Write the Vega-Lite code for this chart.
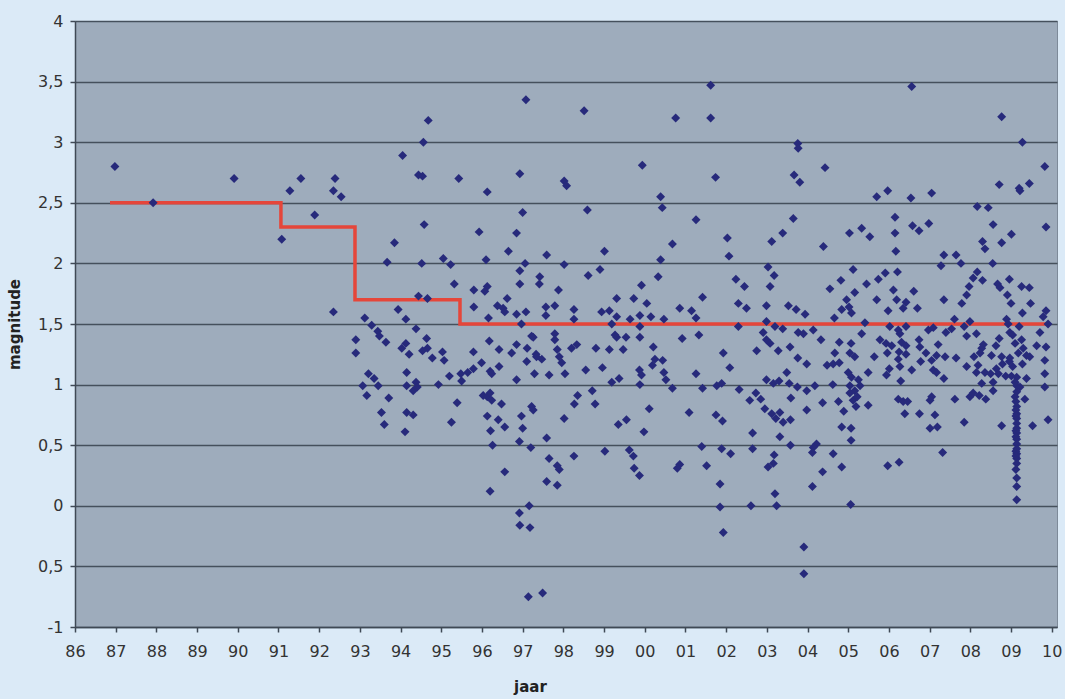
{
  "$schema": "https://vega.github.io/schema/vega-lite/v6.json",
  "width": 982,
  "height": 606,
  "autosize": {"type": "none"},
  "padding": {"left": 75, "top": 21, "right": 8, "bottom": 72},
  "background": "#dbeaf7",
  "config": {
    "view": {"fill": "#9eacbc", "stroke": "#7d8a99", "strokeWidth": 1},
    "axis": {"labelFont": "DejaVu Sans", "titleFont": "DejaVu Sans", "labelColor": "#333333", "titleColor": "#222222"}
  },
  "datasets": {
    "punten": [
      {"jaar":1986.98,"magnitude":2.80},{"jaar":1987.92,"magnitude":2.50},{"jaar":1989.91,"magnitude":2.70},{"jaar":1991.08,"magnitude":2.20},{"jaar":1991.28,"magnitude":2.60},{"jaar":1991.55,"magnitude":2.70},{"jaar":1991.89,"magnitude":2.40},{"jaar":1992.39,"magnitude":2.70},{"jaar":1992.35,"magnitude":2.60},{"jaar":1992.54,"magnitude":2.55},
      {"jaar":1994.68,"magnitude":3.18},{"jaar":1994.56,"magnitude":3.00},{"jaar":1994.05,"magnitude":2.89},{"jaar":1994.44,"magnitude":2.73},{"jaar":1994.54,"magnitude":2.72},{"jaar":1995.43,"magnitude":2.70},{"jaar":1994.58,"magnitude":2.32},{"jaar":1993.85,"magnitude":2.17},{"jaar":1993.67,"magnitude":2.01},{"jaar":1994.52,"magnitude":2.00},{"jaar":1995.05,"magnitude":2.04},{"jaar":1995.23,"magnitude":1.99},{"jaar":1995.32,"magnitude":1.83},{"jaar":1994.44,"magnitude":1.73},{"jaar":1994.66,"magnitude":1.71},{"jaar":1992.35,"magnitude":1.60},{"jaar":1993.94,"magnitude":1.62},{"jaar":1994.13,"magnitude":1.54},{"jaar":1993.12,"magnitude":1.55},{"jaar":1993.29,"magnitude":1.49},{"jaar":1993.44,"magnitude":1.44},{"jaar":1993.48,"magnitude":1.40},{"jaar":1993.64,"magnitude":1.35},{"jaar":1992.90,"magnitude":1.37},{"jaar":1992.90,"magnitude":1.26},{"jaar":1994.38,"magnitude":1.46},{"jaar":1994.03,"magnitude":1.30},{"jaar":1994.13,"magnitude":1.34},{"jaar":1994.21,"magnitude":1.25},{"jaar":1994.64,"magnitude":1.38},{"jaar":1994.54,"magnitude":1.28},{"jaar":1994.66,"magnitude":1.30},{"jaar":1994.78,"magnitude":1.22},{"jaar":1995.03,"magnitude":1.27},{"jaar":1995.07,"magnitude":1.20},{"jaar":1995.20,"magnitude":1.07},{"jaar":1995.48,"magnitude":1.09},{"jaar":1995.50,"magnitude":1.03},{"jaar":1995.65,"magnitude":1.10},{"jaar":1994.93,"magnitude":1.00},{"jaar":1994.15,"magnitude":1.10},{"jaar":1994.15,"magnitude":0.99},{"jaar":1994.38,"magnitude":1.02},{"jaar":1994.31,"magnitude":0.95},{"jaar":1994.41,"magnitude":0.98},{"jaar":1993.21,"magnitude":1.09},{"jaar":1993.35,"magnitude":1.05},{"jaar":1993.45,"magnitude":0.99},{"jaar":1993.07,"magnitude":0.99},{"jaar":1993.17,"magnitude":0.91},{"jaar":1993.71,"magnitude":0.89},{"jaar":1993.53,"magnitude":0.77},{"jaar":1993.60,"magnitude":0.67},{"jaar":1994.15,"magnitude":0.77},{"jaar":1994.31,"magnitude":0.75},{"jaar":1994.11,"magnitude":0.61},{"jaar":1995.39,"magnitude":0.85},{"jaar":1995.25,"magnitude":0.69},
      {"jaar":1997.08,"magnitude":3.35},{"jaar":1998.51,"magnitude":3.26},{"jaar":1999.94,"magnitude":2.81},{"jaar":1996.93,"magnitude":2.74},{"jaar":1998.02,"magnitude":2.68},{"jaar":1998.08,"magnitude":2.64},{"jaar":1996.13,"magnitude":2.59},{"jaar":1997.00,"magnitude":2.42},{"jaar":1998.59,"magnitude":2.44},{"jaar":1995.93,"magnitude":2.26},{"jaar":1996.85,"magnitude":2.25},{"jaar":1996.65,"magnitude":2.10},{"jaar":1997.59,"magnitude":2.07},{"jaar":1999.01,"magnitude":2.10},{"jaar":1996.10,"magnitude":2.03},{"jaar":1997.06,"magnitude":2.00},{"jaar":1998.02,"magnitude":1.99},{"jaar":1996.93,"magnitude":1.94},{"jaar":1998.90,"magnitude":1.95},{"jaar":1998.61,"magnitude":1.90},{"jaar":1997.42,"magnitude":1.89},{"jaar":1997.41,"magnitude":1.83},{"jaar":1996.93,"magnitude":1.83},{"jaar":1996.13,"magnitude":1.81},{"jaar":1995.80,"magnitude":1.78},{"jaar":1996.07,"magnitude":1.77},{"jaar":1997.88,"magnitude":1.78},{"jaar":1999.92,"magnitude":1.82},{"jaar":1996.62,"magnitude":1.71},{"jaar":1999.31,"magnitude":1.71},{"jaar":1999.73,"magnitude":1.71},{"jaar":2000.05,"magnitude":1.67},{"jaar":1995.80,"magnitude":1.64},{"jaar":1996.38,"magnitude":1.65},{"jaar":1996.52,"magnitude":1.63},{"jaar":1996.56,"magnitude":1.60},{"jaar":1997.57,"magnitude":1.64},{"jaar":1997.79,"magnitude":1.65},{"jaar":1998.26,"magnitude":1.62},{"jaar":1998.94,"magnitude":1.60},{"jaar":1999.13,"magnitude":1.61},{"jaar":1996.85,"magnitude":1.58},{"jaar":1997.08,"magnitude":1.60},{"jaar":1997.57,"magnitude":1.57},{"jaar":1998.26,"magnitude":1.54},{"jaar":1996.16,"magnitude":1.55},{"jaar":1999.31,"magnitude":1.56},{"jaar":1999.64,"magnitude":1.54},{"jaar":1999.88,"magnitude":1.57},{"jaar":1996.97,"magnitude":1.50},{"jaar":1999.19,"magnitude":1.50},{"jaar":1999.88,"magnitude":1.48},{"jaar":1996.18,"magnitude":1.36},{"jaar":1997.22,"magnitude":1.40},{"jaar":1997.26,"magnitude":1.39},{"jaar":1997.79,"magnitude":1.42},{"jaar":1997.79,"magnitude":1.37},{"jaar":1998.33,"magnitude":1.33},{"jaar":1998.20,"magnitude":1.30},{"jaar":1999.31,"magnitude":1.39},{"jaar":1999.27,"magnitude":1.41},{"jaar":1999.54,"magnitude":1.39},{"jaar":1999.88,"magnitude":1.39},{"jaar":1995.79,"magnitude":1.27},{"jaar":1996.42,"magnitude":1.29},{"jaar":1996.85,"magnitude":1.33},{"jaar":1996.73,"magnitude":1.26},{"jaar":1997.11,"magnitude":1.30},{"jaar":1997.33,"magnitude":1.25},{"jaar":1997.47,"magnitude":1.21},{"jaar":1997.34,"magnitude":1.23},{"jaar":1997.85,"magnitude":1.29},{"jaar":1997.90,"magnitude":1.23},{"jaar":1998.80,"magnitude":1.30},{"jaar":1999.13,"magnitude":1.29},{"jaar":1999.47,"magnitude":1.29},{"jaar":1997.96,"magnitude":1.18},{"jaar":1997.10,"magnitude":1.19},{"jaar":1995.99,"magnitude":1.18},{"jaar":1995.79,"magnitude":1.13},{"jaar":1996.20,"magnitude":1.11},{"jaar":1996.42,"magnitude":1.15},{"jaar":1996.24,"magnitude":1.09},{"jaar":1996.85,"magnitude":1.04},{"jaar":1997.29,"magnitude":1.09},{"jaar":1997.65,"magnitude":1.08},{"jaar":1998.04,"magnitude":1.09},{"jaar":1998.55,"magnitude":1.12},{"jaar":1998.96,"magnitude":1.14},{"jaar":1999.87,"magnitude":1.12},{"jaar":1999.92,"magnitude":1.08},{"jaar":1999.19,"magnitude":1.02},{"jaar":1999.37,"magnitude":1.05},{"jaar":1999.88,"magnitude":1.00},{"jaar":1996.03,"magnitude":0.91},{"jaar":1996.13,"magnitude":0.90},{"jaar":1996.24,"magnitude":0.87},{"jaar":1996.20,"magnitude":0.93},{"jaar":1996.48,"magnitude":0.84},{"jaar":1997.22,"magnitude":0.82},{"jaar":1997.26,"magnitude":0.79},{"jaar":1998.35,"magnitude":0.91},{"jaar":1998.27,"magnitude":0.84},{"jaar":1998.71,"magnitude":0.95},{"jaar":1998.78,"magnitude":0.84},{"jaar":2000.11,"magnitude":0.80},{"jaar":1996.13,"magnitude":0.74},{"jaar":1996.97,"magnitude":0.74},{"jaar":1996.40,"magnitude":0.71},{"jaar":1996.56,"magnitude":0.65},{"jaar":1996.21,"magnitude":0.62},{"jaar":1997.00,"magnitude":0.64},{"jaar":1998.02,"magnitude":0.72},{"jaar":1999.35,"magnitude":0.67},{"jaar":1999.55,"magnitude":0.71},{"jaar":1999.98,"magnitude":0.61},{"jaar":1996.92,"magnitude":0.53},{"jaar":1996.26,"magnitude":0.50},{"jaar":1997.20,"magnitude":0.48},{"jaar":1997.59,"magnitude":0.56},{"jaar":1997.65,"magnitude":0.39},{"jaar":1997.85,"magnitude":0.33},{"jaar":1997.90,"magnitude":0.30},{"jaar":1998.26,"magnitude":0.41},{"jaar":1999.02,"magnitude":0.45},{"jaar":1999.62,"magnitude":0.46},{"jaar":1999.72,"magnitude":0.41},{"jaar":1999.74,"magnitude":0.31},{"jaar":1999.87,"magnitude":0.25},{"jaar":1996.56,"magnitude":0.28},{"jaar":1997.59,"magnitude":0.20},{"jaar":1997.85,"magnitude":0.17},{"jaar":1996.20,"magnitude":0.12},{"jaar":1997.16,"magnitude":0.00},{"jaar":1996.92,"magnitude":-0.06},{"jaar":1996.93,"magnitude":-0.16},{"jaar":1997.18,"magnitude":-0.18},{"jaar":1997.14,"magnitude":-0.75},{"jaar":1997.49,"magnitude":-0.72},
      {"jaar":2001.62,"magnitude":3.47},{"jaar":2000.76,"magnitude":3.20},{"jaar":2001.62,"magnitude":3.20},{"jaar":2003.76,"magnitude":2.99},{"jaar":2003.77,"magnitude":2.95},{"jaar":2001.74,"magnitude":2.71},{"jaar":2003.67,"magnitude":2.73},{"jaar":2003.81,"magnitude":2.67},{"jaar":2000.39,"magnitude":2.55},{"jaar":2000.43,"magnitude":2.46},{"jaar":2001.26,"magnitude":2.36},{"jaar":2003.65,"magnitude":2.37},{"jaar":2002.03,"magnitude":2.21},{"jaar":2000.68,"magnitude":2.16},{"jaar":2003.39,"magnitude":2.25},{"jaar":2003.12,"magnitude":2.18},{"jaar":2002.07,"magnitude":2.06},{"jaar":2000.39,"magnitude":2.03},{"jaar":2000.33,"magnitude":1.89},{"jaar":2003.03,"magnitude":1.97},{"jaar":2003.18,"magnitude":1.90},{"jaar":2003.08,"magnitude":1.81},{"jaar":2002.24,"magnitude":1.87},{"jaar":2002.45,"magnitude":1.81},{"jaar":2001.42,"magnitude":1.72},{"jaar":2002.30,"magnitude":1.67},{"jaar":2002.50,"magnitude":1.63},{"jaar":2002.99,"magnitude":1.65},{"jaar":2003.53,"magnitude":1.65},{"jaar":2003.72,"magnitude":1.62},{"jaar":2003.94,"magnitude":1.58},{"jaar":2000.86,"magnitude":1.63},{"jaar":2001.15,"magnitude":1.61},{"jaar":2001.26,"magnitude":1.55},{"jaar":2000.15,"magnitude":1.56},{"jaar":2000.47,"magnitude":1.54},{"jaar":2002.30,"magnitude":1.48},{"jaar":2002.99,"magnitude":1.52},{"jaar":2003.20,"magnitude":1.48},{"jaar":2003.39,"magnitude":1.46},{"jaar":2003.77,"magnitude":1.43},{"jaar":2003.90,"magnitude":1.42},{"jaar":2000.92,"magnitude":1.38},{"jaar":2001.33,"magnitude":1.41},{"jaar":2002.91,"magnitude":1.43},{"jaar":2002.99,"magnitude":1.37},{"jaar":2003.08,"magnitude":1.34},{"jaar":2000.21,"magnitude":1.31},{"jaar":2001.93,"magnitude":1.26},{"jaar":2002.75,"magnitude":1.28},{"jaar":2003.28,"magnitude":1.28},{"jaar":2003.57,"magnitude":1.31},{"jaar":2003.76,"magnitude":1.22},{"jaar":2003.98,"magnitude":1.17},{"jaar":2000.25,"magnitude":1.21},{"jaar":2000.19,"magnitude":1.16},{"jaar":2000.44,"magnitude":1.20},{"jaar":2000.47,"magnitude":1.10},{"jaar":2002.09,"magnitude":1.14},{"jaar":2001.26,"magnitude":1.09},{"jaar":2000.52,"magnitude":1.04},{"jaar":2000.68,"magnitude":0.97},{"jaar":2001.42,"magnitude":0.97},{"jaar":2001.77,"magnitude":0.99},{"jaar":2001.89,"magnitude":1.01},{"jaar":2002.32,"magnitude":0.96},{"jaar":2002.99,"magnitude":1.04},{"jaar":2003.16,"magnitude":1.01},{"jaar":2003.30,"magnitude":1.03},{"jaar":2003.49,"magnitude":1.10},{"jaar":2003.55,"magnitude":1.01},{"jaar":2003.75,"magnitude":0.98},{"jaar":2003.98,"magnitude":0.95},{"jaar":2002.58,"magnitude":0.87},{"jaar":2002.73,"magnitude":0.93},{"jaar":2002.85,"magnitude":0.88},{"jaar":2002.95,"magnitude":0.80},{"jaar":2003.12,"magnitude":0.76},{"jaar":2003.22,"magnitude":0.72},{"jaar":2003.32,"magnitude":0.77},{"jaar":2003.40,"magnitude":0.69},{"jaar":2003.58,"magnitude":0.71},{"jaar":2003.59,"magnitude":0.89},{"jaar":2003.98,"magnitude":0.79},{"jaar":2001.09,"magnitude":0.77},{"jaar":2001.75,"magnitude":0.75},{"jaar":2001.91,"magnitude":0.70},{"jaar":2002.65,"magnitude":0.60},{"jaar":2002.65,"magnitude":0.47},{"jaar":2003.32,"magnitude":0.57},{"jaar":2003.58,"magnitude":0.50},{"jaar":2001.40,"magnitude":0.49},{"jaar":2001.89,"magnitude":0.47},{"jaar":2002.11,"magnitude":0.43},{"jaar":2003.18,"magnitude":0.42},{"jaar":2000.86,"magnitude":0.34},{"jaar":2000.80,"magnitude":0.31},{"jaar":2001.52,"magnitude":0.33},{"jaar":2003.03,"magnitude":0.32},{"jaar":2003.16,"magnitude":0.35},{"jaar":2001.85,"magnitude":0.18},{"jaar":2003.20,"magnitude":0.10},{"jaar":2003.24,"magnitude":0.00},{"jaar":2001.85,"magnitude":-0.01},{"jaar":2002.61,"magnitude":0.00},{"jaar":2001.93,"magnitude":-0.22},{"jaar":2003.91,"magnitude":-0.34},{"jaar":2003.91,"magnitude":-0.56},
      {"jaar":2006.56,"magnitude":3.46},{"jaar":2004.43,"magnitude":2.79},{"jaar":2005.70,"magnitude":2.55},{"jaar":2005.97,"magnitude":2.60},{"jaar":2006.54,"magnitude":2.54},{"jaar":2007.05,"magnitude":2.58},{"jaar":2006.15,"magnitude":2.38},{"jaar":2006.58,"magnitude":2.31},{"jaar":2006.74,"magnitude":2.27},{"jaar":2006.98,"magnitude":2.33},{"jaar":2005.03,"magnitude":2.25},{"jaar":2005.33,"magnitude":2.29},{"jaar":2005.53,"magnitude":2.22},{"jaar":2006.15,"magnitude":2.25},{"jaar":2006.17,"magnitude":2.10},{"jaar":2004.39,"magnitude":2.14},{"jaar":2007.35,"magnitude":2.07},{"jaar":2007.65,"magnitude":2.07},{"jaar":2007.28,"magnitude":1.98},{"jaar":2007.77,"magnitude":2.00},{"jaar":2005.12,"magnitude":1.95},{"jaar":2005.91,"magnitude":1.92},{"jaar":2006.21,"magnitude":1.93},{"jaar":2004.82,"magnitude":1.86},{"jaar":2004.55,"magnitude":1.79},{"jaar":2005.45,"magnitude":1.83},{"jaar":2005.74,"magnitude":1.87},{"jaar":2005.16,"magnitude":1.76},{"jaar":2004.96,"magnitude":1.70},{"jaar":2005.02,"magnitude":1.64},{"jaar":2005.08,"magnitude":1.59},{"jaar":2005.70,"magnitude":1.70},{"jaar":2006.11,"magnitude":1.78},{"jaar":2006.19,"magnitude":1.70},{"jaar":2006.42,"magnitude":1.68},{"jaar":2006.61,"magnitude":1.77},{"jaar":2006.70,"magnitude":1.63},{"jaar":2006.35,"magnitude":1.63},{"jaar":2005.98,"magnitude":1.61},{"jaar":2004.84,"magnitude":1.62},{"jaar":2004.66,"magnitude":1.55},{"jaar":2007.35,"magnitude":1.70},{"jaar":2007.79,"magnitude":1.67},{"jaar":2007.91,"magnitude":1.74},{"jaar":2007.61,"magnitude":1.54},{"jaar":2005.41,"magnitude":1.51},{"jaar":2006.02,"magnitude":1.48},{"jaar":2006.23,"magnitude":1.45},{"jaar":2006.42,"magnitude":1.48},{"jaar":2006.97,"magnitude":1.45},{"jaar":2007.09,"magnitude":1.47},{"jaar":2007.40,"magnitude":1.43},{"jaar":2007.54,"magnitude":1.46},{"jaar":2007.85,"magnitude":1.48},{"jaar":2004.14,"magnitude":1.45},{"jaar":2007.91,"magnitude":1.40},{"jaar":2005.33,"magnitude":1.42},{"jaar":2004.33,"magnitude":1.37},{"jaar":2004.78,"magnitude":1.35},{"jaar":2005.07,"magnitude":1.34},{"jaar":2005.78,"magnitude":1.37},{"jaar":2005.93,"magnitude":1.34},{"jaar":2006.07,"magnitude":1.32},{"jaar":2006.27,"magnitude":1.42},{"jaar":2006.31,"magnitude":1.35},{"jaar":2006.42,"magnitude":1.32},{"jaar":2006.74,"magnitude":1.37},{"jaar":2006.76,"magnitude":1.31},{"jaar":2006.91,"magnitude":1.26},{"jaar":2007.21,"magnitude":1.33},{"jaar":2004.67,"magnitude":1.26},{"jaar":2005.04,"magnitude":1.26},{"jaar":2005.16,"magnitude":1.23},{"jaar":2005.64,"magnitude":1.23},{"jaar":2005.96,"magnitude":1.26},{"jaar":2006.25,"magnitude":1.27},{"jaar":2006.42,"magnitude":1.25},{"jaar":2006.78,"magnitude":1.19},{"jaar":2007.05,"magnitude":1.20},{"jaar":2007.17,"magnitude":1.24},{"jaar":2007.38,"magnitude":1.23},{"jaar":2007.65,"magnitude":1.22},{"jaar":2007.91,"magnitude":1.15},{"jaar":2004.48,"magnitude":1.16},{"jaar":2004.63,"magnitude":1.17},{"jaar":2004.78,"magnitude":1.18},{"jaar":2006.23,"magnitude":1.21},{"jaar":2006.27,"magnitude":1.15},{"jaar":2006.01,"magnitude":1.13},{"jaar":2006.56,"magnitude":1.12},{"jaar":2007.09,"magnitude":1.12},{"jaar":2005.00,"magnitude":1.10},{"jaar":2005.08,"magnitude":1.06},{"jaar":2005.25,"magnitude":1.04},{"jaar":2005.49,"magnitude":1.10},{"jaar":2005.94,"magnitude":1.08},{"jaar":2006.29,"magnitude":1.03},{"jaar":2007.17,"magnitude":1.10},{"jaar":2007.35,"magnitude":1.05},{"jaar":2004.18,"magnitude":0.99},{"jaar":2004.62,"magnitude":1.00},{"jaar":2005.04,"magnitude":0.99},{"jaar":2005.16,"magnitude":0.95},{"jaar":2005.29,"magnitude":0.99},{"jaar":2005.04,"magnitude":0.93},{"jaar":2005.12,"magnitude":0.87},{"jaar":2005.19,"magnitude":0.82},{"jaar":2005.22,"magnitude":0.90},{"jaar":2004.37,"magnitude":0.85},{"jaar":2004.76,"magnitude":0.86},{"jaar":2004.89,"magnitude":0.78},{"jaar":2005.49,"magnitude":0.83},{"jaar":2006.23,"magnitude":0.88},{"jaar":2006.35,"magnitude":0.86},{"jaar":2006.46,"magnitude":0.86},{"jaar":2007.05,"magnitude":0.90},{"jaar":2007.01,"magnitude":0.87},{"jaar":2007.62,"magnitude":0.88},{"jaar":2007.99,"magnitude":0.90},{"jaar":2006.39,"magnitude":0.76},{"jaar":2006.75,"magnitude":0.76},{"jaar":2007.13,"magnitude":0.75},{"jaar":2007.01,"magnitude":0.64},{"jaar":2007.19,"magnitude":0.65},{"jaar":2007.85,"magnitude":0.69},{"jaar":2004.84,"magnitude":0.65},{"jaar":2005.07,"magnitude":0.64},{"jaar":2005.07,"magnitude":0.54},{"jaar":2004.22,"magnitude":0.51},{"jaar":2004.14,"magnitude":0.48},{"jaar":2004.12,"magnitude":0.44},{"jaar":2004.63,"magnitude":0.43},{"jaar":2007.32,"magnitude":0.44},{"jaar":2004.84,"magnitude":0.32},{"jaar":2004.37,"magnitude":0.28},{"jaar":2005.97,"magnitude":0.33},{"jaar":2006.25,"magnitude":0.36},{"jaar":2004.12,"magnitude":0.16},{"jaar":2005.06,"magnitude":0.01},
      {"jaar":2008.77,"magnitude":3.21},{"jaar":2009.28,"magnitude":3.00},{"jaar":2009.83,"magnitude":2.80},{"jaar":2008.71,"magnitude":2.65},{"jaar":2009.20,"magnitude":2.62},{"jaar":2009.22,"magnitude":2.60},{"jaar":2009.45,"magnitude":2.66},{"jaar":2008.17,"magnitude":2.47},{"jaar":2008.44,"magnitude":2.46},{"jaar":2008.56,"magnitude":2.32},{"jaar":2009.86,"magnitude":2.30},{"jaar":2009.01,"magnitude":2.24},{"jaar":2008.77,"magnitude":2.17},{"jaar":2008.30,"magnitude":2.18},{"jaar":2008.36,"magnitude":2.12},{"jaar":2008.55,"magnitude":2.00},{"jaar":2008.17,"magnitude":1.93},{"jaar":2008.07,"magnitude":1.88},{"jaar":2008.30,"magnitude":1.86},{"jaar":2007.97,"magnitude":1.81},{"jaar":2008.67,"magnitude":1.83},{"jaar":2008.96,"magnitude":1.87},{"jaar":2009.26,"magnitude":1.81},{"jaar":2009.45,"magnitude":1.80},{"jaar":2008.73,"magnitude":1.80},{"jaar":2008.91,"magnitude":1.74},{"jaar":2009.00,"magnitude":1.67},{"jaar":2009.48,"magnitude":1.67},{"jaar":2009.28,"magnitude":1.59},{"jaar":2009.86,"magnitude":1.61},{"jaar":2009.79,"magnitude":1.56},{"jaar":2009.91,"magnitude":1.50},{"jaar":2007.99,"magnitude":1.52},{"jaar":2008.89,"magnitude":1.54},{"jaar":2008.93,"magnitude":1.50},{"jaar":2008.97,"magnitude":1.43},{"jaar":2009.20,"magnitude":1.48},{"jaar":2009.71,"magnitude":1.43},{"jaar":2008.15,"magnitude":1.42},{"jaar":2008.71,"magnitude":1.38},{"jaar":2009.04,"magnitude":1.41},{"jaar":2009.10,"magnitude":1.34},{"jaar":2009.26,"magnitude":1.37},{"jaar":2008.32,"magnitude":1.33},{"jaar":2008.28,"magnitude":1.30},{"jaar":2008.63,"magnitude":1.32},{"jaar":2009.63,"magnitude":1.32},{"jaar":2009.86,"magnitude":1.31},{"jaar":2009.30,"magnitude":1.30},{"jaar":2008.09,"magnitude":1.23},{"jaar":2008.24,"magnitude":1.26},{"jaar":2008.52,"magnitude":1.24},{"jaar":2008.77,"magnitude":1.23},{"jaar":2008.97,"magnitude":1.22},{"jaar":2009.18,"magnitude":1.26},{"jaar":2009.38,"magnitude":1.24},{"jaar":2009.46,"magnitude":1.23},{"jaar":2009.83,"magnitude":1.20},{"jaar":2008.19,"magnitude":1.16},{"jaar":2008.64,"magnitude":1.13},{"jaar":2008.79,"magnitude":1.17},{"jaar":2008.96,"magnitude":1.19},{"jaar":2009.04,"magnitude":1.15},{"jaar":2009.28,"magnitude":1.17},{"jaar":2008.15,"magnitude":1.10},{"jaar":2008.36,"magnitude":1.10},{"jaar":2008.50,"magnitude":1.09},{"jaar":2008.69,"magnitude":1.09},{"jaar":2008.87,"magnitude":1.07},{"jaar":2009.01,"magnitude":1.07},{"jaar":2009.14,"magnitude":1.06},{"jaar":2009.38,"magnitude":1.05},{"jaar":2009.83,"magnitude":1.09},{"jaar":2008.28,"magnitude":1.01},{"jaar":2008.56,"magnitude":1.02},{"jaar":2009.10,"magnitude":1.02},{"jaar":2009.14,"magnitude":0.99},{"jaar":2009.22,"magnitude":0.98},{"jaar":2008.07,"magnitude":0.93},{"jaar":2008.22,"magnitude":0.91},{"jaar":2008.38,"magnitude":0.88},{"jaar":2008.56,"magnitude":0.95},{"jaar":2009.14,"magnitude":0.94},{"jaar":2009.10,"magnitude":0.90},{"jaar":2009.34,"magnitude":0.88},{"jaar":2009.83,"magnitude":0.98},{"jaar":2009.12,"magnitude":0.86},{"jaar":2009.14,"magnitude":0.82},{"jaar":2008.77,"magnitude":0.66},{"jaar":2009.53,"magnitude":0.66},{"jaar":2009.91,"magnitude":0.71},
      {"jaar":2009.14,"magnitude":0.76},{"jaar":2009.14,"magnitude":0.72},{"jaar":2009.14,"magnitude":0.68},{"jaar":2009.14,"magnitude":0.64},{"jaar":2009.14,"magnitude":0.60},{"jaar":2009.14,"magnitude":0.55},{"jaar":2009.14,"magnitude":0.51},{"jaar":2009.14,"magnitude":0.47},{"jaar":2009.14,"magnitude":0.43},{"jaar":2009.14,"magnitude":0.39},{"jaar":2009.14,"magnitude":0.35},{"jaar":2009.14,"magnitude":0.23},{"jaar":2009.14,"magnitude":0.16},{"jaar":2009.14,"magnitude":0.05},{"jaar":2009.12,"magnitude":0.79},{"jaar":2009.12,"magnitude":0.74},{"jaar":2009.12,"magnitude":0.62},{"jaar":2009.12,"magnitude":0.57},{"jaar":2009.12,"magnitude":0.45},{"jaar":2009.12,"magnitude":0.41},{"jaar":2009.12,"magnitude":0.30}
    ],
    "drempel": [
      {"jaar":1986.86,"magnitude":2.5},{"jaar":1991.06,"magnitude":2.3},{"jaar":1992.88,"magnitude":1.7},{"jaar":1995.46,"magnitude":1.5},{"jaar":2009.95,"magnitude":1.5}
    ]
  },
  "encoding": {
    "x": {
      "field": "jaar", "type": "quantitative",
      "scale": {"domain": [1986, 2010.13], "nice": false, "zero": false},
      "axis": {
        "title": "jaar", "titleFontWeight": "bold", "titleFontSize": 15, "titleX": 455, "titlePadding": 20,
        "values": [1986,1987,1988,1989,1990,1991,1992,1993,1994,1995,1996,1997,1998,1999,2000,2001,2002,2003,2004,2005,2006,2007,2008,2009,2010],
        "labelExpr": "substring(toString(datum.value), 2, 4)",
        "labelFontSize": 16, "labelPadding": 11, "labelFlush": false, "labelOverlap": false,
        "grid": false, "domainColor": "#3f4955", "domainWidth": 1.5, "tickColor": "#3f4955", "tickSize": 5, "tickWidth": 1.5
      }
    },
    "y": {
      "field": "magnitude", "type": "quantitative",
      "scale": {"domain": [-1, 4], "nice": false, "zero": false},
      "axis": {
        "title": "magnitude", "titleFontWeight": "bold", "titleFontSize": 15, "titleX": -53, "titleY": 303,
        "values": [-1,-0.5,0,0.5,1,1.5,2,2.5,3,3.5,4],
        "labelExpr": "datum.value == -0.5 ? '0,5' : replace(toString(datum.value), '.', ',')",
        "labelFontSize": 16, "labelPadding": 7, "labelFlush": false, "labelOverlap": false,
        "grid": true, "gridColor": "#45505c", "gridWidth": 1.5,
        "domainColor": "#3f4955", "domainWidth": 1.5, "tickColor": "#3f4955", "tickSize": 5, "tickWidth": 1.5
      }
    }
  },
  "layer": [
    {
      "data": {"name": "drempel"},
      "mark": {"type": "line", "interpolate": "step-after", "color": "#e5463a", "strokeWidth": 3.5}
    },
    {
      "data": {"name": "punten"},
      "mark": {"type": "point", "shape": "diamond", "filled": true, "color": "#272a7b", "opacity": 1, "size": 80}
    }
  ]
}
